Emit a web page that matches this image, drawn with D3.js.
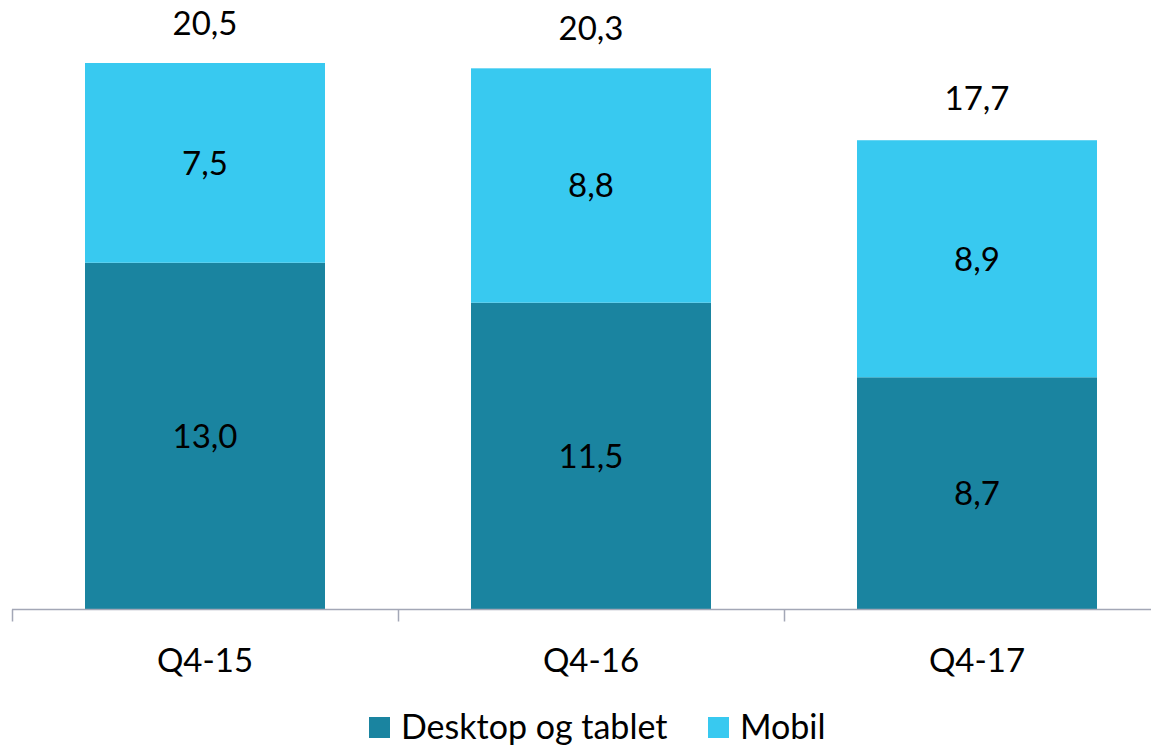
<!DOCTYPE html>
<html>
<head>
<meta charset="utf-8">
<script src="https://cdn.jsdelivr.net/npm/d3@7"></script>
<style>
  body { margin: 0; background: #fff; }
  svg { display: block; font-family: Lato, "Open Sans", sans-serif; }
</style>
</head>
<body>
<div id="chart"></div>
<script>
const categories = ["Q4-15", "Q4-16", "Q4-17"];
const desktop = [13.0, 11.5, 8.7];
const mobil = [7.5, 8.8, 8.9];
const totals = [20.5, 20.3, 17.7];
const seriesNames = ["Desktop og tablet", "Mobil"];
const colors = ["#1a84a0", "#38c9f0"];

const width = 1151, height = 745;
const fontSize = 33;
const fmt = v => d3.format(".1f")(v).replace(".", ",");

const svg = d3.select("#chart").append("svg")
  .attr("width", width).attr("height", height);

const x = d3.scaleBand().domain(categories).range([12, 1170]);
const barW = 240;
const y = d3.scaleLinear().domain([0, 20.5]).range([609, 63]);

const rows = categories.map((c, i) => ({ cat: c, desktop: desktop[i], mobil: mobil[i] }));
const stack = d3.stack().keys(["desktop", "mobil"])(rows);

stack.forEach((layer, li) => {
  svg.append("g").selectAll("rect").data(layer).join("rect")
    .attr("x", d => x(d.data.cat) + (x.bandwidth() - barW) / 2)
    .attr("width", barW)
    .attr("y", d => y(d[1]))
    .attr("height", d => y(d[0]) - y(d[1]))
    .attr("fill", colors[li]);

  svg.append("g").selectAll("text").data(layer).join("text")
    .attr("x", d => x(d.data.cat) + x.bandwidth() / 2)
    .attr("y", d => (y(d[0]) + y(d[1])) / 2)
    .attr("dy", "0.36em")
    .attr("text-anchor", "middle")
    .attr("font-size", fontSize)
    .attr("fill", "#000")
    .text(d => fmt(d[1] - d[0]));
});

svg.append("g").selectAll("text").data(categories).join("text")
  .attr("x", d => x(d) + x.bandwidth() / 2)
  .attr("y", (d, i) => y(totals[i]) - 28)
  .attr("text-anchor", "middle")
  .attr("font-size", fontSize)
  .text((d, i) => fmt(totals[i]));

// x axis
const axis = svg.append("g").attr("transform", "translate(0,609.5)");
axis.append("line").attr("x1", 12).attr("x2", 1170)
  .attr("stroke", "#a3a7b6").attr("stroke-width", 1.5);
const tickPos = [...categories.map(c => x(c)), 1170];
axis.selectAll("line.tick").data(tickPos).join("line")
  .attr("class", "tick")
  .attr("x1", d => d + 0.5).attr("x2", d => d + 0.5)
  .attr("y1", 0).attr("y2", 12)
  .attr("stroke", "#a3a7b6").attr("stroke-width", 1.5);
axis.selectAll("text").data(categories).join("text")
  .attr("x", d => x(d) + x.bandwidth() / 2)
  .attr("y", 62)
  .attr("text-anchor", "middle")
  .attr("font-size", fontSize)
  .text(d => d);

// legend
const legend = svg.append("g");
const legendX = [369, 708];
seriesNames.forEach((s, i) => {
  legend.append("rect")
    .attr("x", legendX[i]).attr("y", 717)
    .attr("width", 21).attr("height", 21)
    .attr("fill", colors[i]);
  legend.append("text")
    .attr("x", legendX[i] + 32).attr("y", 739)
    .attr("font-size", 34)
    .text(s);
});
</script>
</body>
</html>
